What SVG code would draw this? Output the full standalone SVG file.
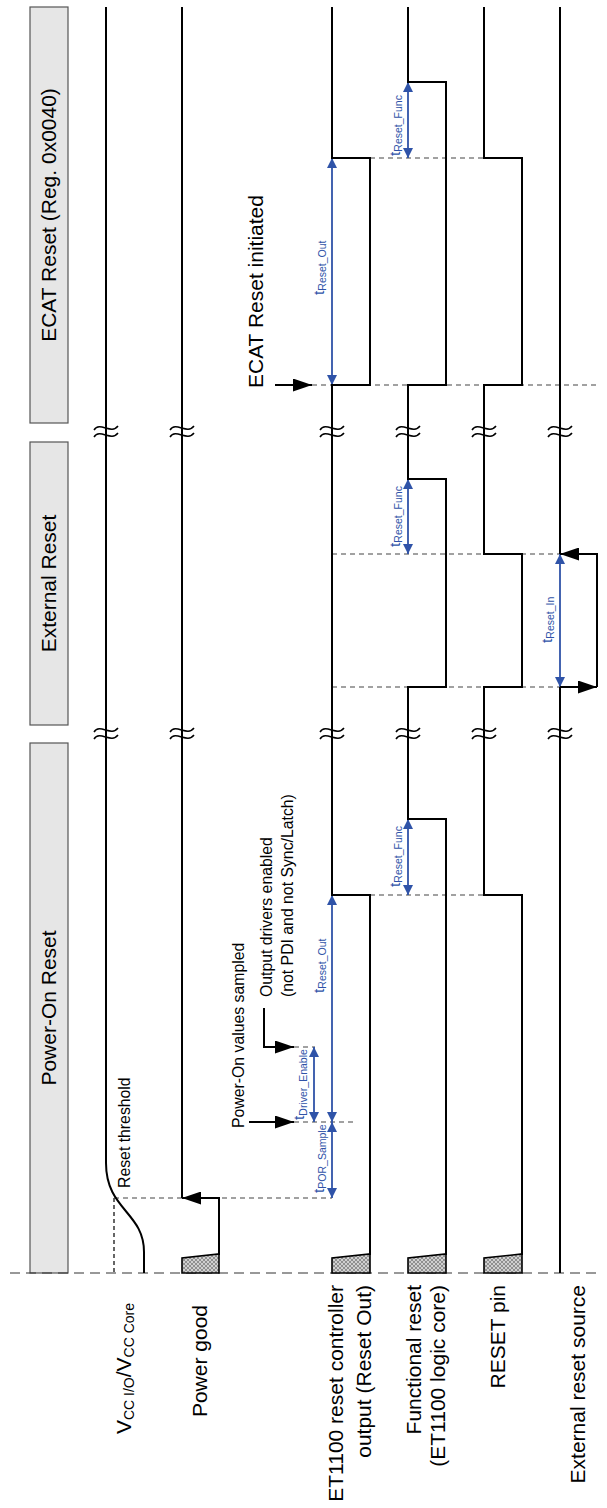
<svg xmlns="http://www.w3.org/2000/svg" xmlns:xlink="http://www.w3.org/1999/xlink" width="607" height="1508" viewBox="0 0 607 1508">
<style>
.sig{stroke:#000;stroke-width:2;fill:none;stroke-linejoin:miter}
.dash{stroke:#444;stroke-width:1.2;stroke-dasharray:5 4;fill:none}
.base{stroke:#333;stroke-width:1.2;stroke-dasharray:10 6;fill:none}
.dim{stroke:#2f53a8;stroke-width:1.8;fill:none;marker-start:url(#ba);marker-end:url(#ba)}
.arr{stroke:#000;stroke-width:2;fill:none;marker-end:url(#ka)}
.hdr{fill:#e6e6e6;stroke:#555;stroke-width:1.2}
.trap{fill:url(#hatch);stroke:#000;stroke-width:1.6}
.brk{stroke:#000;stroke-width:1.5;fill:none}
text{font-family:"Liberation Sans",Arial,sans-serif;fill:#000}
.lbl{font-size:21px}
.ann{font-size:15.8px}
.tl{font-size:15.5px;fill:#2f53a8}
.sub{font-size:10.5px}
</style>
<defs>
<marker id="ba" viewBox="0 0 10 10" refX="10" refY="5" markerWidth="10" markerHeight="10" markerUnits="userSpaceOnUse" orient="auto-start-reverse"><path d="M0,0 L10,5 L0,10 Z" fill="#2f53a8"/></marker>
<marker id="ka" viewBox="0 0 19 13" refX="19" refY="6.5" markerWidth="19" markerHeight="13" markerUnits="userSpaceOnUse" orient="auto"><path d="M0,0 L19,6.5 L0,13 Z" fill="#000"/></marker>
<pattern id="hatch" width="4" height="4" patternUnits="userSpaceOnUse"><rect width="4" height="4" fill="#d0d0d0"/><path d="M0,0 L4,4 M4,0 L0,4" stroke="#808080" stroke-width="0.8"/></pattern>
<g id="brk" class="brk"><path d="M-12,-1 C-6,-10 5,4 12,-5"/><path d="M-12,6 C-6,-3 5,11 12,2"/></g>
</defs>
<rect width="607" height="1508" fill="#fff"/>

<g id="headers">
<g id="hdr-por"><rect class="hdr" x="30" y="743" width="38" height="530"/><text class="lbl" transform="translate(56,1008) rotate(-90)" text-anchor="middle">Power-On Reset</text></g>
<g id="hdr-ext"><rect class="hdr" x="30" y="442" width="38" height="283"/><text class="lbl" transform="translate(56,583.5) rotate(-90)" text-anchor="middle">External Reset</text></g>
<g id="hdr-ecat"><rect class="hdr" x="30" y="7" width="38" height="416"/><text class="lbl" transform="translate(56,215) rotate(-90)" text-anchor="middle">ECAT Reset (Reg. 0x0040)</text></g>
</g>

<g id="connectors">
<line class="base" x1="10" y1="1273" x2="600" y2="1273"/>
<line class="dash" x1="114" y1="1198" x2="114" y2="1273" style="stroke-dasharray:4 3;stroke:#000"/>
<line class="dash" x1="114" y1="1198" x2="332" y2="1198"/>
<line class="dash" x1="294" y1="1122" x2="353" y2="1122"/>
<line class="dash" x1="294" y1="1047" x2="315" y2="1047"/>
<line class="dash" x1="370" y1="895" x2="484" y2="895"/>
<line class="dash" x1="332" y1="687" x2="560" y2="687"/>
<line class="dash" x1="332" y1="554" x2="560" y2="554"/>
<line class="dash" x1="312" y1="385" x2="597" y2="385"/>
<line class="dash" x1="370" y1="158" x2="484" y2="158"/>

<path class="arr" d="M249,1122 H294"/>
<path class="arr" d="M264,1008 V1047 H294"/>
<path class="arr" d="M275,385 H312"/>

<line class="dim" x1="332" y1="1198" x2="332" y2="1122"/>
<line class="dim" x1="332" y1="1122" x2="332" y2="895"/>
<line class="dim" x1="314" y1="1122" x2="314" y2="1047"/>
<line class="dim" x1="408" y1="895" x2="408" y2="819"/>
<line class="dim" x1="560" y1="687" x2="560" y2="554"/>
<line class="dim" x1="408" y1="554" x2="408" y2="479"/>
<line class="dim" x1="332" y1="385" x2="332" y2="158"/>
<line class="dim" x1="408" y1="158" x2="408" y2="82"/>
</g>

<g id="sig-vcc">
<path class="sig" d="M106,7 V1163 C106,1210 144,1212 144,1252 V1273"/>
<text class="lbl" transform="translate(131,1303) rotate(-90)" text-anchor="end">V<tspan font-size="14" dy="3">CC I/O</tspan><tspan dy="-3">/V</tspan><tspan font-size="14" dy="3">CC Core</tspan></text>
<text class="ann" transform="translate(129.5,1188) rotate(-90)">Reset threshold</text>
</g>

<g id="sig-pg">
<path class="trap" d="M182,1273 V1258 L219,1254 V1273 Z"/>
<path class="arr" d="M219,1255 V1198 H182"/>
<path class="sig" d="M182,1198 V7"/>
<text class="lbl" transform="translate(207,1305) rotate(-90)" text-anchor="end">Power good</text>
</g>

<g id="sig-et1100">
<path class="trap" d="M332,1273 V1258 L370,1254 V1273 Z"/>
<path class="sig" d="M370,1255 V895 H332 V385 H370 V158 H332 V7"/>
<text class="lbl" transform="translate(343,1285) rotate(-90)" text-anchor="end">ET1100 reset controller</text>
<text class="lbl" transform="translate(371,1285) rotate(-90)" text-anchor="end">output (Reset Out)</text>
</g>

<g id="sig-func">
<path class="trap" d="M408,1273 V1258 L446,1254 V1273 Z"/>
<path class="sig" d="M446,1255 V819 H408 V687 H446 V479 H408 V385 H446 V82 H408 V7"/>
<text class="lbl" transform="translate(421,1285) rotate(-90)" text-anchor="end">Functional reset</text>
<text class="lbl" transform="translate(445,1285) rotate(-90)" text-anchor="end">(ET1100 logic core)</text>
</g>

<g id="sig-resetpin">
<path class="trap" d="M484,1273 V1258 L522,1254 V1273 Z"/>
<path class="sig" d="M522,1255 V895 H484 V687 H522 V554 H484 V385 H522 V158 H484 V7"/>
<text class="lbl" transform="translate(505,1285) rotate(-90)" text-anchor="end">RESET pin</text>
</g>

<g id="sig-ext">
<path class="sig" d="M560,1273 V687"/>
<path class="arr" d="M560,687 H597"/>
<path class="arr" d="M597,687 V554 H560"/>
<path class="sig" d="M560,554 V7"/>
<text class="lbl" transform="translate(585,1285) rotate(-90)" text-anchor="end">External reset source</text>
</g>

<g id="breaks">
<use xlink:href="#brk" href="#brk" x="106" y="733"/><use xlink:href="#brk" href="#brk" x="182" y="733"/><use xlink:href="#brk" href="#brk" x="332" y="733"/><use xlink:href="#brk" href="#brk" x="408" y="733"/><use xlink:href="#brk" href="#brk" x="484" y="733"/><use xlink:href="#brk" href="#brk" x="560" y="733"/>
<use xlink:href="#brk" href="#brk" x="106" y="431"/><use xlink:href="#brk" href="#brk" x="182" y="431"/><use xlink:href="#brk" href="#brk" x="332" y="431"/><use xlink:href="#brk" href="#brk" x="408" y="431"/><use xlink:href="#brk" href="#brk" x="484" y="431"/><use xlink:href="#brk" href="#brk" x="560" y="431"/>
</g>

<g id="annotations">
<text class="ann" transform="translate(244,1128) rotate(-90)">Power-On values sampled</text>
<text class="ann" transform="translate(271.5,997) rotate(-90)">Output drivers enabled</text>
<text class="ann" transform="translate(292.5,997) rotate(-90)">(not PDI and not Sync/Latch)</text>
<text class="lbl" transform="translate(263,388) rotate(-90)">ECAT Reset initiated</text>
<text class="tl" transform="translate(323.5,1193) rotate(-90)">t<tspan class="sub" dy="2.5">POR_Sample</tspan></text>
<text class="tl" transform="translate(304,1120) rotate(-90)">t<tspan class="sub" dy="2.5">Driver_Enable</tspan></text>
<text class="tl" transform="translate(323.5,993) rotate(-90)">t<tspan class="sub" dy="2.5">Reset_Out</tspan></text>
<text class="tl" transform="translate(399.5,887) rotate(-90)">t<tspan class="sub" dy="2.5">Reset_Func</tspan></text>
<text class="tl" transform="translate(551.5,643) rotate(-90)">t<tspan class="sub" dy="2.5">Reset_In</tspan></text>
<text class="tl" transform="translate(399.5,547) rotate(-90)">t<tspan class="sub" dy="2.5">Reset_Func</tspan></text>
<text class="tl" transform="translate(323.5,295) rotate(-90)">t<tspan class="sub" dy="2.5">Reset_Out</tspan></text>
<text class="tl" transform="translate(399.5,156) rotate(-90)">t<tspan class="sub" dy="2.5">Reset_Func</tspan></text>
</g>
</svg>
